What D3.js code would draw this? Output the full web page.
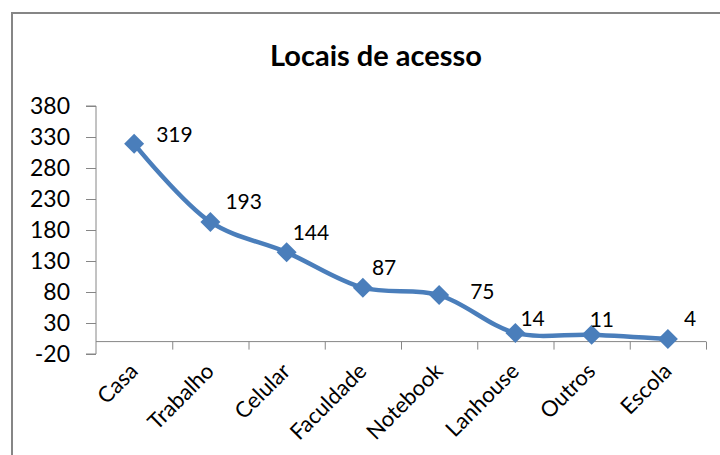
<!DOCTYPE html>
<html>
<head>
<meta charset="utf-8">
<script src="https://cdn.jsdelivr.net/npm/d3@7"></script>
<style>
  body { margin: 0; background: #fff; }
  text { font-family: Lato, "Open Sans", sans-serif; fill: #000; }
</style>
</head>
<body>
<script>
// chart data
const categories = ['Casa', 'Trabalho', 'Celular', 'Faculdade', 'Notebook', 'Lanhouse', 'Outros', 'Escola'];
const values = [319, 193, 144, 87, 75, 14, 11, 4];
const yTicks = [-20, 30, 80, 130, 180, 230, 280, 330, 380];
// where excel nudged each data label (relative to its point)
const labelOffsets = [[22, -9], [15, -20], [6, -20], [9, -20], [31, -3], [5, -14], [-2, -15], [16, -20]];

let width = 720, height = 455;
let blue = '#4a7ebb', grey = '#868686';

let svg = d3.select('body').append('svg')
            .attr('width', width)
            .attr('height', height);

// outer chart border (runs off the right / bottom of the picture)
svg.append('rect')
   .attr('x', 12).attr('y', 13)
   .attr('width', 800).attr('height', 800)
   .attr('fill', 'none')
   .attr('stroke', grey)
   .attr('stroke-width', 2);

svg.append('text')
   .attr('x', 376).attr('y', 66)
   .attr('text-anchor', 'middle')
   .style('font-size', '29px')
   .style('font-weight', 'bold')
   .text('Locais de acesso');

let y = d3.scaleLinear().domain([-20, 380]).range([354, 106]);
let x = d3.scaleBand().domain(categories).range([96, 706]);
let xi = d3.scaleLinear().domain([0, categories.length]).range([96, 706]);

// y axis
let yAxis = svg.append('g')
               .attr('transform', 'translate(96,0)')
               .call(d3.axisLeft(y).tickValues(yTicks).tickSize(10).tickPadding(16).tickFormat(d => String(d)));
yAxis.select('.domain').attr('stroke', grey).attr('d', 'M-10,' + y(380) + 'H0V' + y(-20) + 'H-10');
yAxis.selectAll('.tick line').attr('stroke', grey);
yAxis.selectAll('.tick text').style('font-size', '23px').attr('font-family', null);

// x axis sits on zero
let xAxis = svg.append('g')
               .attr('transform', 'translate(0,' + y(0) + ')')
               .call(d3.axisBottom(xi).ticks(categories.length).tickSize(8).tickFormat(''));
xAxis.select('.domain').attr('stroke', grey).attr('d', 'M96,0H706');
xAxis.selectAll('.tick line').attr('stroke', grey);
xAxis.selectAll('.tick').filter(d => d === 0).remove();

svg.append('g')
   .selectAll('text')
   .data(categories)
   .enter().append('text')
   .attr('transform', d => 'translate(' + (x(d) + x.bandwidth() / 2 + 5) + ',' + (y(0) + 31) + ') rotate(-45)')
   .attr('text-anchor', 'end')
   .style('font-size', '22px')
   .text(d => d);

let pts = values.map((v, i) => [x(categories[i]) + x.bandwidth() / 2, y(v)]);

svg.append('path')
   .datum(pts)
   .attr('d', d3.line().curve(d3.curveCatmullRom.alpha(0.5)))
   .attr('fill', 'none')
   .attr('stroke', blue)
   .attr('stroke-width', 4.5);

svg.append('g')
   .selectAll('path')
   .data(pts)
   .enter().append('path')
   .attr('d', d3.symbol(d3.symbolSquare, 200))
   .attr('transform', d => 'translate(' + d[0] + ',' + d[1] + ') rotate(45)')
   .attr('fill', blue);

svg.append('g')
   .selectAll('text')
   .data(values)
   .enter().append('text')
   .attr('x', (d, i) => pts[i][0] + labelOffsets[i][0])
   .attr('y', (d, i) => pts[i][1] + labelOffsets[i][1])
   .attr('dy', '0.35em')
   .style('font-size', '21px')
   .text(d => d);
</script>
</body>
</html>
